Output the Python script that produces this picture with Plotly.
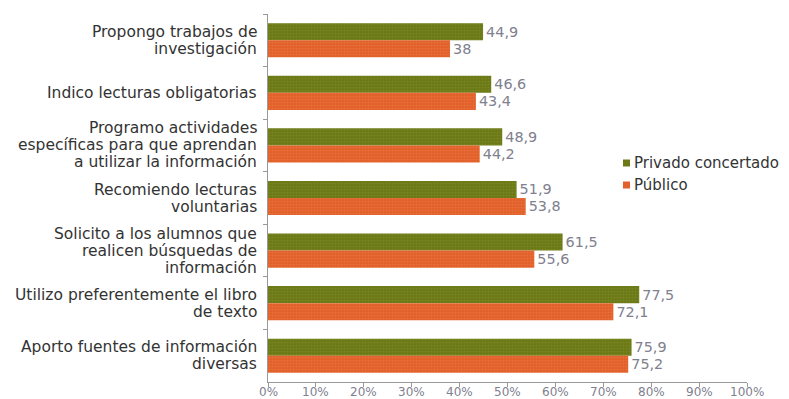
import plotly.graph_objects as go

categories = [
    "Propongo trabajos de<br>investigación",
    "Indico lecturas obligatorias",
    "Programo actividades<br>específicas para que aprendan<br>a utilizar la información",
    "Recomiendo lecturas<br>voluntarias",
    "Solicito a los alumnos que<br>realicen búsquedas de<br>información",
    "Utilizo preferentemente el libro<br>de texto",
    "Aporto fuentes de información<br>diversas",
]
series_names = ["Privado concertado", "Público"]
privado = [44.9, 46.6, 48.9, 51.9, 61.5, 77.5, 75.9]
publico = [38, 43.4, 44.2, 53.8, 55.6, 72.1, 75.2]
tick_vals = [0, 10, 20, 30, 40, 50, 60, 70, 80, 90, 100]
tick_text = ["%d%%" % v for v in tick_vals]


def fmt(v):
    return ("%g" % v).replace(".", ",")


FONT = "DejaVu Sans"
LABEL_GRAY = "#80808E"
GREEN = "#6C7A16"
ORANGE = "#E2612A"
W, H = 789, 399
ML, MR, MT, MB = 268, 42, 14, 17
PW, PH = W - ML - MR, H - MT - MB


def px_x(px):
    return (px - ML) / PW


def px_y(py):
    return 1 - (py - MT) / PH


fig = go.Figure()
for name, vals, col, fg in [(series_names[0], privado, GREEN, "#8A9436"),
                            (series_names[1], publico, ORANGE, "#EC8455")]:
    fig.add_trace(go.Bar(
        y=categories, x=vals, orientation="h", name=name,
        marker=dict(color=col, line=dict(width=0),
                    pattern=dict(shape=".", size=3, solidity=0.25, fgcolor=fg)),
        text=[fmt(v) for v in vals], textposition="outside",
        textfont=dict(color=LABEL_GRAY, size=16, family=FONT), cliponaxis=False,
        hoverinfo="skip",
    ))

# category labels as annotations (tighter line spacing than tick labels)
for cat in categories:
    lines = cat.split("<br>")
    n = len(lines)
    for i, ln in enumerate(lines):
        fig.add_annotation(
            xref="paper", yref="y", x=0, y=cat, text=ln, showarrow=False,
            xanchor="right", yanchor="middle", xshift=-9,
            yshift=-(i - (n - 1) / 2) * 17,
            font=dict(family=FONT, size=15.5, color="#333333"),
        )

# x tick labels as annotations placed on the x scale
for v, t in zip(tick_vals, tick_text):
    fig.add_annotation(
        xref="x", yref="paper", x=v, y=0, text=t, showarrow=False,
        xanchor="center", yanchor="bottom", yshift=-18, borderpad=0,
        font=dict(family=FONT, size=12, color=LABEL_GRAY),
    )

# legend drawn manually (small square swatches)
for i, (name, col) in enumerate(zip(series_names, [GREEN, ORANGE])):
    cy = 163 + 22 * i
    fig.add_shape(type="rect", xref="paper", yref="paper",
                  x0=px_x(623), x1=px_x(630), y0=px_y(cy - 3.5), y1=px_y(cy + 3.5),
                  fillcolor=col, line=dict(width=0))
    fig.add_annotation(xref="paper", yref="paper", x=px_x(632), y=px_y(cy),
                       text=name, showarrow=False, xanchor="left", yanchor="middle",
                       font=dict(family=FONT, size=15, color="#333333"))

fig.update_layout(
    width=W, height=H,
    margin=dict(l=ML, r=MR, t=MT, b=MB, autoexpand=False),
    paper_bgcolor="white", plot_bgcolor="white",
    barmode="group", bargap=0.35, bargroupgap=0,
    font=dict(family=FONT, size=15, color="#333333"),
    showlegend=False,
)
fig.update_xaxes(
    range=[0, 100], tickvals=tick_vals, showticklabels=False,
    showgrid=False, zeroline=False,
    showline=True, linecolor="#999999", linewidth=1,
    ticks="outside", ticklen=4, tickcolor="#999999",
)
fig.update_yaxes(
    autorange="reversed", showgrid=False, zeroline=False,
    showline=True, linecolor="#999999", linewidth=1,
    ticks="outside", ticklen=4, tickcolor="#999999", tickson="boundaries",
    showticklabels=False,
)
fig.write_html("out.html", config={"displayModeBar": False},
               post_script="document.body.style.margin='0';")
